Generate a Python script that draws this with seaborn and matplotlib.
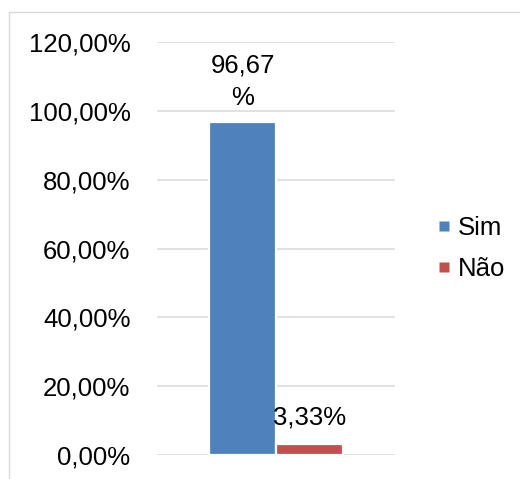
import matplotlib
matplotlib.use("Agg")
import matplotlib.pyplot as plt
import matplotlib.patches as mpatches
from matplotlib.lines import Line2D
import seaborn as sns
import pandas as pd

# Survey answers (percent of respondents)
answers = ["Sim", "Não"]
shares = [96.67, 3.33]
value_labels = ["96,67\n%", "3,33%"]
tick_values = [0, 20, 40, 60, 80, 100, 120]
tick_labels = ["0,00%", "20,00%", "40,00%", "60,00%", "80,00%", "100,00%", "120,00%"]
colors = ["#4F81BD", "#C0504D"]

df = pd.DataFrame({"grupo": [""] * len(answers), "resposta": answers, "pct": shares})

sns.set_theme(style="white")
plt.rcParams["font.family"] = ["Liberation Sans", "DejaVu Sans"]

FS = 18.5

fig = plt.figure(figsize=(5.2, 4.79), dpi=100)
ax = fig.add_axes([157 / 520, 24 / 479, 238 / 520, 413 / 479])

sns.barplot(data=df, x="grupo", y="pct", hue="resposta", hue_order=answers,
            palette=colors, width=0.56, edgecolor="white", linewidth=1.6,
            saturation=1, ax=ax, legend=False)

ax.set_ylim(0, 120)
ax.set_xlim(-0.5, 0.5)
ax.set_yticks(tick_values)
ax.set_yticklabels(tick_labels, fontsize=FS, color="#000000")
ax.set_xticks([])
ax.set_xlabel("")
ax.set_ylabel("")
ax.tick_params(axis="y", length=0, pad=19)
for s in ax.spines.values():
    s.set_visible(False)
ax.yaxis.grid(True, color="#d9d9d9", linewidth=1.1)
ax.set_axisbelow(True)

for cont, lab, pad in zip(ax.containers, value_labels, [9, 10]):
    ax.bar_label(cont, labels=[lab], fontsize=FS, padding=pad, color="#000000",
                 linespacing=1.42)

handles = [Line2D([], [], linestyle="none", marker="s", markersize=7,
                  markerfacecolor=c, markeredgecolor="none", label=a)
           for c, a in zip(colors, answers)]
leg = ax.legend(handles=handles, loc="center left",
                bbox_to_anchor=(439 / 520, 230.5 / 479),
                bbox_transform=fig.transFigure, frameon=False, fontsize=FS,
                handlelength=0.36, handletextpad=0.38,
                labelspacing=0.68, borderaxespad=0, borderpad=0)
for t in leg.get_texts():
    t.set_color("#000000")

# Chart-area frame
fig.patches.append(mpatches.Rectangle((9 / 520, -0.1), 1.2, 1 - 12 / 479 + 0.1,
                                      transform=fig.transFigure, fill=False,
                                      edgecolor="#d9d9d9", linewidth=1.0))

fig.savefig("out.png", dpi=100)
